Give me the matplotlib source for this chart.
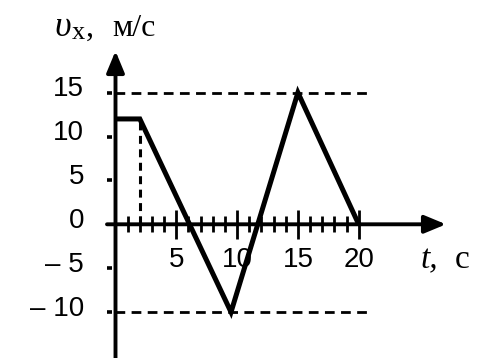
import matplotlib
matplotlib.use("Agg")
import matplotlib.pyplot as plt

# ---- data ----
t_pts = [0, 2, 9.5, 15, 20]
v_pts = [12, 12, -10, 15, 0]
x_tick_labels = ["5", "10", "15", "20"]
x_tick_vals = [5, 10, 15, 20]
y_tick_vals = [15, 10, 5, 0, -5, -10]
y_tick_labels = ["15", "10", "5", "0", "\u2013 5", "\u2013 10"]
minor_t = list(range(1, 21))
dash_levels = [15, -10]

W, H = 479, 358
fig = plt.figure(figsize=(W / 100, H / 100), dpi=100)
ax = fig.add_axes([0, 0, 1, 1])
ax.set_axis_off()

# pixel mapping: x = 115.5 + 12.16 t ; y = 224.3 - 8.78 v
sx, x0 = 12.16, 115.5
sy, y0 = 8.78, 224.3
ax.set_xlim(-x0 / sx, (W - x0) / sx)
ax.set_ylim(-(H - y0) / sy, y0 / sy)

def px_t(p):
    return (p - x0) / sx

def px_v(p):
    return (y0 - p) / sy

# dashed reference lines
for lv in dash_levels:
    ax.plot([0, px_t(371)], [lv, lv], color='k', lw=2.0,
            dashes=(7.0 / 2.0, 4.6 / 2.0), dash_capstyle='butt')
ax.plot([t_pts[1], t_pts[1]], [0, v_pts[1]], color='k', lw=2.2,
        dashes=(2.6, 1.8), dash_capstyle='butt')

# x-axis ticks
for tt in minor_t:
    h = 1.65 if tt % 5 == 0 else 0.9
    ax.plot([tt, tt], [-h, h], color='k', lw=2.0, solid_capstyle='butt')
# y-axis small ticks
for yv in y_tick_vals:
    if yv != 0:
        ax.plot([px_t(107.5), px_t(112)], [yv, yv], color='k', lw=2.6,
                solid_capstyle='butt')

# axes with arrows
ax.annotate('', xy=(px_t(446), 0), xytext=(px_t(107), 0),
            arrowprops=dict(arrowstyle='-|>,head_length=0.65,head_width=0.27',
                            lw=2.8, color='k', shrinkA=0, shrinkB=0,
                            mutation_scale=20))
ax.annotate('', xy=(0, px_v(51)), xytext=(0, px_v(H + 2)),
            arrowprops=dict(arrowstyle='-|>,head_length=0.65,head_width=0.27',
                            lw=2.8, color='k', shrinkA=0, shrinkB=0,
                            mutation_scale=20))

# main curve
ax.plot(t_pts, v_pts, color='k', lw=3.6, solid_joinstyle='miter',
        solid_capstyle='butt')

# tick labels
fs = 20
for val, lab in zip(y_tick_vals, y_tick_labels):
    ax.text(px_t(84), val + 0.4, lab, ha='right', va='center',
            fontsize=fs, family='Liberation Sans')
for val, lab in zip(x_tick_vals, x_tick_labels):
    ax.text(val, px_v(260), lab, ha='center', va='center',
            fontsize=fs, family='Liberation Sans')

# axis titles
serif = 'Liberation Serif'
ax.text(px_t(54), px_v(36), 'υ', ha='left', va='baseline', fontsize=26,
        family=serif, style='italic')
ax.text(px_t(72), px_v(39), 'x', ha='left', va='baseline', fontsize=19,
        family=serif)
ax.text(px_t(86), px_v(36), ',', ha='left', va='baseline', fontsize=23,
        family=serif)
ax.text(px_t(112), px_v(36), 'м/с', ha='left', va='baseline', fontsize=23,
        family=serif)
ax.text(px_t(421), px_v(268), 't,', ha='left', va='baseline',
        fontsize=24, family=serif, style='italic')
ax.text(px_t(455), px_v(268), 'с', ha='left', va='baseline',
        fontsize=24, family=serif)

fig.savefig('out.png', dpi=100)
